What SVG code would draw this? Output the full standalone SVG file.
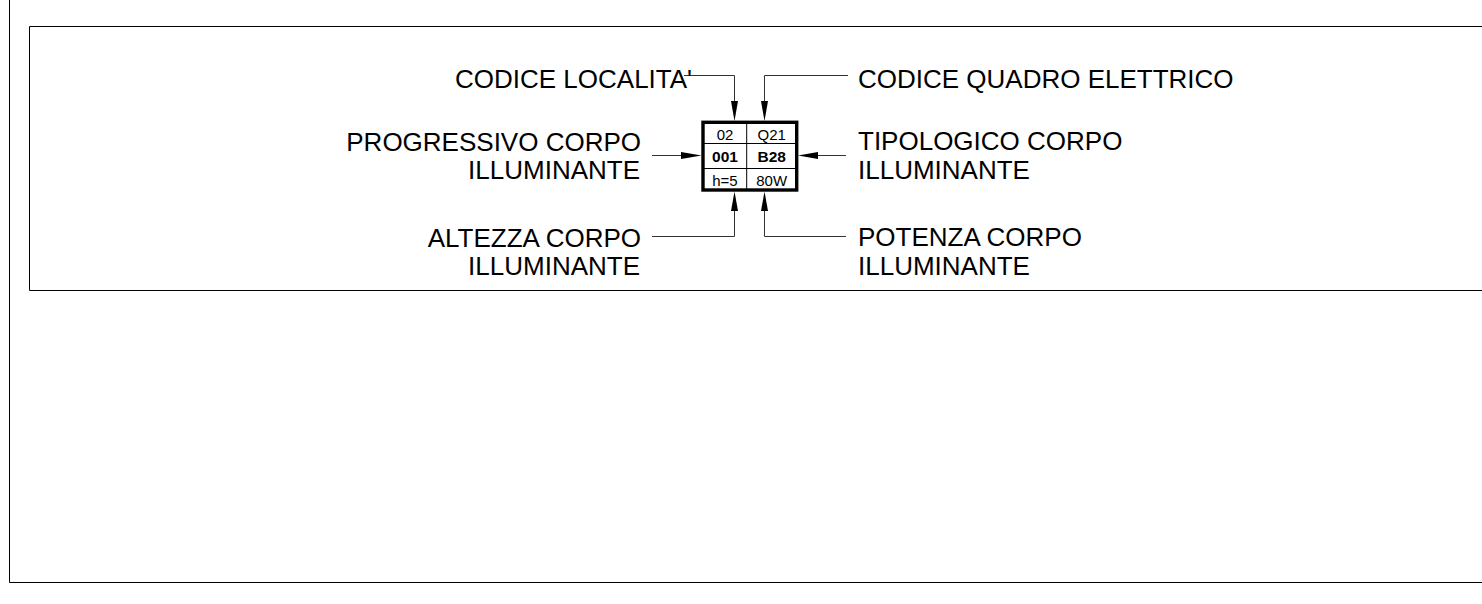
<svg xmlns="http://www.w3.org/2000/svg" width="1482" height="604" viewBox="0 0 1482 604">
<defs>
<style>
.lbl{font-family:"Liberation Sans",Arial,sans-serif;font-size:26px;fill:#000}
.cell{font-family:"Liberation Sans",Arial,sans-serif;font-size:15px;fill:#000;text-anchor:middle}
.b{font-weight:bold;font-size:15.5px}
.frame{fill:none;stroke:#000;stroke-width:1}
.con{fill:none;stroke:#333;stroke-width:1}
.ah{fill:#000}
</style>
</defs>
<rect x="0" y="0" width="1482" height="604" fill="#fff"/>
<g id="frames">
<path class="frame" d="M9.5 0 V582.5 H1482"/>
<path class="frame" d="M1482 26.5 H29.5 V290.5 H1482"/>
</g>
<g id="connectors">
<path class="con" d="M684 75.5 H734.5 V105"/>
<path class="con" d="M848 75.5 H764.5 V105"/>
<path class="con" d="M652 155.5 H685"/>
<path class="con" d="M846 155.5 H815"/>
<path class="con" d="M652 236.5 H734.5 V208"/>
<path class="con" d="M846 236.5 H764.5 V208"/>
<polygon class="ah" points="731,101 738,101 734.5,121"/>
<polygon class="ah" points="761,101 768,101 764.5,121"/>
<polygon class="ah" points="681,152 681,159 701.5,155.5"/>
<polygon class="ah" points="818,152 818,159 798,155.5"/>
<polygon class="ah" points="731,211 738,211 734.5,191.5"/>
<polygon class="ah" points="761,211 768,211 764.5,191.5"/>
</g>
<g id="node-box">
<rect x="703" y="122.3" width="93.7" height="67.7" fill="#fff" stroke="#000" stroke-width="3.4"/>
<line x1="746.7" y1="122" x2="746.7" y2="190" stroke="#000" stroke-width="1"/>
<line x1="703" y1="143.5" x2="796.7" y2="143.5" stroke="#000" stroke-width="1"/>
<line x1="703" y1="168.5" x2="796.7" y2="168.5" stroke="#000" stroke-width="1"/>
<text class="cell" x="725" y="140">02</text>
<text class="cell" x="771.7" y="140">Q21</text>
<text class="cell b" x="725" y="161.7">001</text>
<text class="cell b" x="771.7" y="161.7">B28</text>
<text class="cell" x="725" y="185.7">h=5</text>
<text class="cell" x="771.7" y="185.7">80W</text>
</g>
<g id="label-codice-localita">
<text class="lbl" x="455" y="88.3">CODICE LOCALITA'</text>
</g>
<g id="label-codice-quadro">
<text class="lbl" x="858" y="88.3">CODICE QUADRO ELETTRICO</text>
</g>
<g id="label-progressivo">
<text class="lbl" x="641" y="150.7" text-anchor="end">PROGRESSIVO CORPO</text>
<text class="lbl" x="640" y="179" text-anchor="end">ILLUMINANTE</text>
</g>
<g id="label-tipologico">
<text class="lbl" x="858" y="150.3">TIPOLOGICO CORPO</text>
<text class="lbl" x="858" y="179">ILLUMINANTE</text>
</g>
<g id="label-altezza">
<text class="lbl" x="641" y="246.7" text-anchor="end">ALTEZZA CORPO</text>
<text class="lbl" x="640" y="275" text-anchor="end">ILLUMINANTE</text>
</g>
<g id="label-potenza">
<text class="lbl" x="858" y="245.7">POTENZA CORPO</text>
<text class="lbl" x="858" y="275">ILLUMINANTE</text>
</g>
</svg>
